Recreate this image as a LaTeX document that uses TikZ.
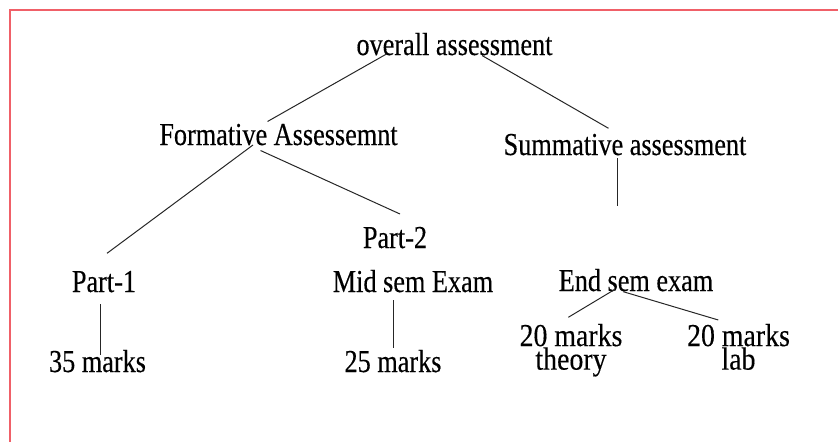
\documentclass[tikz,border=0pt]{standalone}
\usepackage{fontspec}
\setmainfont[FakeStretch=0.82,FakeBold=0.3]{Liberation Serif}
\newfontfamily\widefont[FakeStretch=0.87,FakeBold=0.3]{Liberation Serif}
\usetikzlibrary{positioning}
\definecolor{framered}{RGB}{240,96,104}

\begin{document}
\begin{tikzpicture}[
    x=1pt,y=-1pt,
    on grid,
    lbl/.style={font=\fontsize{32}{38}\selectfont,inner sep=0pt,text height=22.5pt,text depth=7.5pt},
    pair/.style={font=\widefont\fontsize{32}{22}\selectfont,inner sep=0pt,align=center,text depth=7.5pt},
    link/.style={draw=black!85,line width=1pt}
]
\useasboundingbox (0,0) rectangle (838,442);

% Frame
\draw[framered,line width=2pt] (838,10.3) -- (10.3,10.3) -- (10.3,442);

% Top
\node[lbl] (root) at (454.5,47.5) {overall assessment};

% Second level
\node[lbl,below left=90pt and 176pt of root] (form) {Formative Assessemnt};
\node[lbl,below right=100pt and 170.5pt of root] (summ) {Summative assessment};

% Formative parts
\node[lbl,below left=147pt and 174.5pt of form] (part1) {Part-1};
\node[lbl,below right=103pt and 116.5pt of form] (part2) {Part-2};
\node[lbl,below right=44pt and 18pt of part2] (mid) {Mid sem Exam};

% Summative part
\node[lbl,below right=136pt and 11pt of summ] (endsem) {End sem exam};

% Marks
\node[lbl,below left=80pt and 6.5pt of part1] (marks35) {35 marks};
\node[lbl,below left=80pt and 20pt of mid] (marks25) {25 marks};
\node[pair,below left=67pt and 65pt of endsem] (theory) {20 marks\\theory};
\node[pair,below right=67pt and 102.5pt of endsem] (lab) {20 marks\\lab};

% Lines
\draw[link] ([shift={(-68,6.5)}]root.center) -- ([shift={(-11,-16)}]form.center);
\draw[link] ([shift={(27.5,8)}]root.center) -- ([shift={(-16.5,-19.2)}]summ.center);
\draw[link] ([shift={(-25.5,7.5)}]form.center) -- ([shift={(3,-31.2)}]part1.center);
\draw[link] ([shift={(-18,13)}]form.center) -- ([shift={(5,-26.5)}]part2.center);
\draw[link] ([shift={(-7.5,10.8)}]summ.center) -- ([shift={(-18.5,-77.5)}]endsem.center);
\draw[link] ([shift={(-3.3,19.8)}]part1.center) -- ([shift={(3.2,-9.5)}]marks35.center);
\draw[link] ([shift={(-20,15.5)}]mid.center) -- ([shift={(0,-16.2)}]marks25.center);
\draw[link] ([shift={(-21,5.8)}]endsem.center) -- ([shift={(-2.7,-33.2)}]theory.center);
\draw[link] ([shift={(-12.7,8.2)}]endsem.center) -- ([shift={(-20.2,-30.5)}]lab.center);

\end{tikzpicture}
\end{document}
